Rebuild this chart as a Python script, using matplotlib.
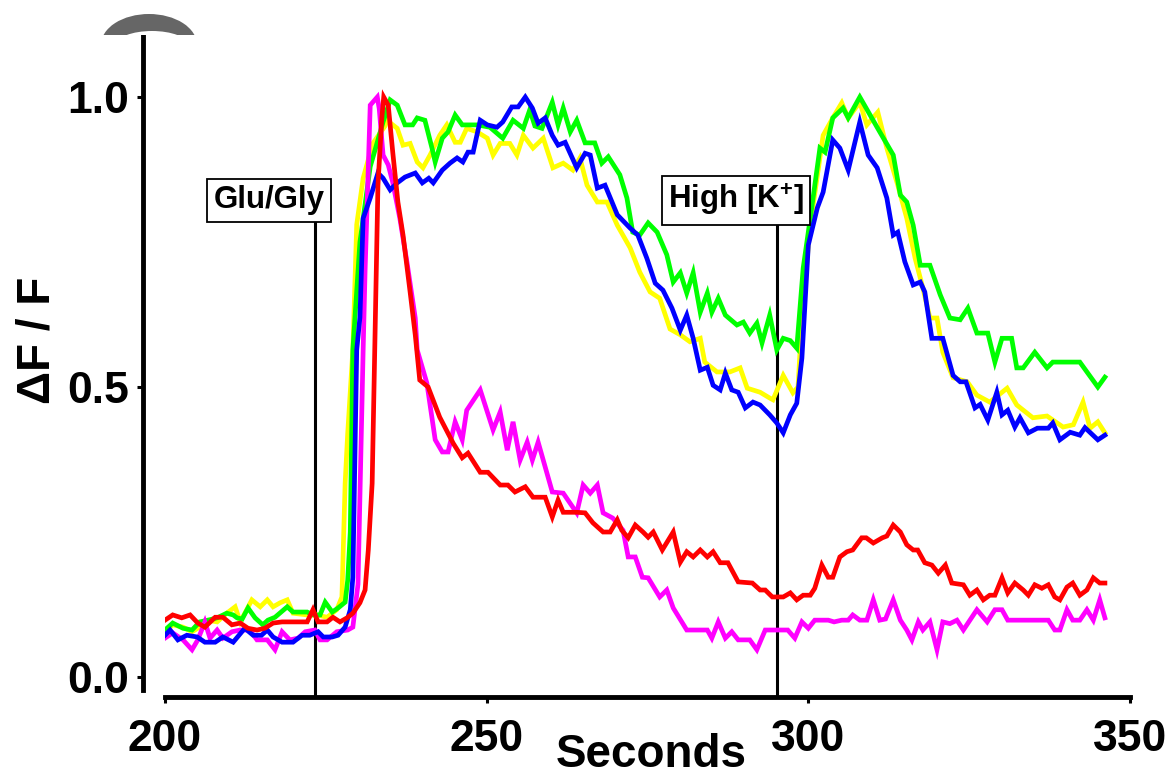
import matplotlib
matplotlib.use('Agg')
import matplotlib.pyplot as plt
from matplotlib.patches import Ellipse

plt.rcParams['font.family'] = ['Liberation Sans', 'DejaVu Sans']
plt.rcParams['mathtext.fontset'] = 'custom'
plt.rcParams['mathtext.rm'] = 'Liberation Sans'
plt.rcParams['mathtext.bf'] = 'Liberation Sans:bold'

# ---------------- data ----------------
red_t = [200.0, 201.2, 202.6, 203.9, 205.1, 206.2, 207.8, 209.0, 210.4, 211.7, 212.9, 214.3, 215.5, 216.8,
         218.2, 219.4, 220.7, 222.1, 223.0, 223.8, 225.2, 226.1, 227.2, 228.3, 229.2, 230.3, 231.1, 231.6,
         232.2, 232.6, 233.1, 233.7, 234.0, 234.7, 235.4, 236.2, 237.0, 238.1, 238.9, 239.6, 240.9, 242.7,
         244.8, 246.2, 247.1, 249.0, 250.2, 252.1, 253.3, 254.4, 256.0, 257.2, 258.0, 259.1, 260.2, 261.1,
         261.9, 264.0, 265.3, 266.5, 268.1, 269.2, 270.3, 271.0, 272.0, 273.1, 274.3, 275.1, 275.9, 277.3,
         279.0, 280.1, 281.1, 282.1, 283.2, 284.3, 285.2, 286.3, 287.5, 289.1, 291.3, 292.5, 293.3, 294.4,
         296.1, 297.2, 298.2, 299.2, 300.3, 301.0, 302.1, 303.1, 303.8, 304.9, 306.0, 306.9, 308.3, 309.0,
         310.1, 311.5, 312.2, 313.2, 314.3, 315.3, 316.3, 317.0, 318.1, 319.2, 320.2, 321.3, 322.3, 324.1,
         325.1, 326.2, 327.2, 328.2, 329.0, 330.1, 331.0, 332.1, 333.4, 334.2, 335.2, 336.3, 337.3, 338.3,
         339.1, 340.2, 341.1, 342.2, 343.3, 344.3, 345.3, 346.1]
red_v = [0.098, 0.107, 0.102, 0.107, 0.093, 0.086, 0.103, 0.103, 0.090, 0.093, 0.084, 0.081, 0.084, 0.093,
         0.095, 0.095, 0.095, 0.095, 0.116, 0.095, 0.095, 0.103, 0.095, 0.102, 0.110, 0.128, 0.150, 0.219,
         0.334, 0.564, 0.848, 0.964, 1.000, 0.986, 0.905, 0.819, 0.762, 0.664, 0.590, 0.512, 0.500, 0.448,
         0.403, 0.378, 0.386, 0.353, 0.353, 0.331, 0.331, 0.319, 0.328, 0.310, 0.310, 0.310, 0.276, 0.305,
         0.284, 0.284, 0.283, 0.266, 0.250, 0.250, 0.271, 0.253, 0.240, 0.262, 0.250, 0.241, 0.250, 0.219,
         0.250, 0.198, 0.216, 0.207, 0.219, 0.207, 0.216, 0.197, 0.197, 0.164, 0.162, 0.150, 0.150, 0.138,
         0.138, 0.145, 0.133, 0.141, 0.141, 0.153, 0.193, 0.172, 0.172, 0.207, 0.216, 0.219, 0.240, 0.240,
         0.231, 0.240, 0.243, 0.262, 0.250, 0.228, 0.219, 0.219, 0.197, 0.193, 0.179, 0.193, 0.162, 0.159,
         0.141, 0.150, 0.133, 0.141, 0.141, 0.171, 0.145, 0.162, 0.150, 0.141, 0.159, 0.153, 0.159, 0.138,
         0.133, 0.155, 0.162, 0.141, 0.150, 0.171, 0.162, 0.162]

magenta_t = [200.0, 201.2, 202.8, 204.2, 205.1, 206.2, 207.0, 208.1, 209.0, 210.4, 211.7, 213.2, 214.3, 215.9,
             217.1, 218.2, 219.4, 220.7, 221.8, 223.3, 224.1, 225.2, 226.7, 228.4, 229.2, 230.0, 230.8, 231.1,
             231.9, 233.0, 233.3, 233.9, 234.7, 235.4, 236.5, 237.6, 238.9, 239.2, 240.7, 242.0, 243.1, 244.0,
             245.1, 246.2, 246.9, 249.0, 251.0, 252.1, 253.2, 254.1, 255.2, 256.3, 257.1, 258.0, 260.2, 261.9,
             264.0, 265.0, 266.1, 267.2, 268.1, 269.6, 271.2, 272.0, 273.1, 274.2, 275.1, 276.9, 278.0, 279.0,
             281.1, 283.2, 284.3, 285.0, 286.0, 287.1, 288.1, 289.1, 290.9, 292.0, 293.3, 294.5, 296.8, 297.9,
             299.0, 300.0, 301.0, 303.1, 304.0, 305.2, 306.2, 306.9, 308.0, 309.1, 310.1, 311.1, 312.0, 313.2,
             314.3, 315.3, 316.1, 317.1, 317.8, 318.9, 320.0, 320.9, 322.0, 323.1, 324.1, 326.2, 327.8, 329.0,
             330.1, 331.0, 332.4, 337.3, 338.3, 339.1, 340.2, 341.1, 342.2, 343.3, 344.3, 345.3, 346.1]
magenta_v = [0.067, 0.076, 0.064, 0.047, 0.064, 0.095, 0.067, 0.081, 0.067, 0.078, 0.081, 0.081, 0.064, 0.064,
             0.047, 0.078, 0.064, 0.067, 0.078, 0.081, 0.064, 0.064, 0.078, 0.081, 0.086, 0.160, 0.564, 0.700,
             0.986, 1.000, 0.980, 0.900, 0.883, 0.853, 0.791, 0.716, 0.619, 0.564, 0.507, 0.409, 0.388, 0.388,
             0.440, 0.409, 0.460, 0.495, 0.426, 0.457, 0.391, 0.440, 0.374, 0.405, 0.374, 0.405, 0.319, 0.317,
             0.283, 0.331, 0.317, 0.331, 0.283, 0.274, 0.253, 0.207, 0.207, 0.172, 0.171, 0.138, 0.150, 0.119,
             0.081, 0.081, 0.081, 0.067, 0.095, 0.067, 0.078, 0.064, 0.064, 0.047, 0.081, 0.081, 0.081, 0.067,
             0.095, 0.084, 0.098, 0.098, 0.095, 0.098, 0.098, 0.107, 0.098, 0.098, 0.133, 0.098, 0.100, 0.133,
             0.098, 0.081, 0.064, 0.095, 0.081, 0.095, 0.047, 0.095, 0.092, 0.098, 0.081, 0.116, 0.095, 0.116,
             0.116, 0.098, 0.098, 0.098, 0.081, 0.081, 0.116, 0.098, 0.098, 0.116, 0.098, 0.133, 0.102]

yellow_t = [200.0, 201.2, 202.8, 204.2, 205.4, 206.7, 208.1, 209.6, 210.9, 211.7, 212.7, 213.5, 214.8, 215.9,
            216.8, 217.9, 219.0, 219.9, 222.1, 223.6, 225.2, 226.7, 227.5, 228.0, 228.4, 229.2, 229.8, 230.8,
            232.3, 234.2, 234.5, 236.1, 237.0, 238.1, 239.2, 240.1, 241.2, 242.7, 243.8, 245.1, 245.9, 246.9,
            248.5, 250.1, 251.0, 252.1, 253.6, 254.7, 255.7, 257.2, 258.8, 260.3, 261.9, 263.4, 264.5, 265.6,
            267.2, 268.7, 270.3, 272.3, 273.8, 275.4, 276.9, 278.5, 280.1, 281.6, 283.2, 283.9, 285.8, 287.8,
            289.4, 290.5, 292.5, 294.0, 294.5, 296.1, 297.6, 298.4, 299.0, 300.3, 302.3, 303.8, 305.2, 306.2,
            308.0, 309.1, 310.8, 312.2, 313.9, 315.3, 316.6, 317.8, 318.9, 320.0, 320.9, 322.5, 324.7, 326.2,
            328.2, 330.9, 332.4, 334.9, 337.1, 339.6, 341.2, 342.7, 343.8, 345.0, 346.1]
yellow_v = [0.078, 0.090, 0.086, 0.078, 0.086, 0.098, 0.095, 0.110, 0.121, 0.095, 0.116, 0.133, 0.121, 0.133,
            0.121, 0.128, 0.133, 0.110, 0.107, 0.107, 0.103, 0.116, 0.138, 0.334, 0.420, 0.564, 0.780, 0.860,
            0.920, 0.950, 0.960, 0.946, 0.917, 0.920, 0.888, 0.878, 0.900, 0.934, 0.952, 0.922, 0.922, 0.946,
            0.940, 0.929, 0.900, 0.920, 0.920, 0.900, 0.934, 0.912, 0.929, 0.878, 0.886, 0.874, 0.895, 0.848,
            0.819, 0.819, 0.779, 0.740, 0.698, 0.664, 0.653, 0.600, 0.590, 0.578, 0.584, 0.543, 0.526, 0.526,
            0.533, 0.498, 0.491, 0.481, 0.478, 0.520, 0.490, 0.500, 0.620, 0.779, 0.934, 0.964, 0.990, 0.964,
            0.991, 0.952, 0.974, 0.912, 0.848, 0.791, 0.722, 0.671, 0.619, 0.619, 0.560, 0.516, 0.509, 0.486,
            0.474, 0.498, 0.469, 0.447, 0.450, 0.431, 0.435, 0.474, 0.429, 0.440, 0.421]

green_t = [200.0, 201.2, 202.8, 204.2, 205.4, 206.7, 208.1, 209.6, 210.6, 211.2, 212.0, 212.9, 214.0, 215.2,
           216.0, 217.1, 219.0, 219.9, 222.1, 223.0, 224.1, 224.9, 226.0, 226.9, 228.0, 228.4, 228.8, 229.2,
           230.3, 231.9, 233.9, 235.0, 236.1, 237.3, 238.5, 239.2, 240.4, 241.5, 242.0, 243.1, 244.0, 245.1,
           246.2, 248.5, 250.5, 252.5, 254.1, 255.7, 256.7, 257.5, 258.6, 260.2, 261.1, 261.9, 263.0, 264.0,
           265.3, 266.8, 267.9, 268.9, 270.7, 271.8, 272.7, 273.8, 275.1, 276.5, 278.0, 279.0, 280.1, 281.1,
           282.1, 283.2, 284.3, 285.0, 286.0, 287.1, 288.9, 289.9, 290.9, 292.0, 292.8, 294.0, 295.1, 296.1,
           297.2, 298.2, 299.2, 300.3, 301.8, 302.6, 303.8, 305.4, 306.2, 308.0, 309.6, 311.1, 313.2, 314.3,
           315.3, 316.3, 317.4, 318.9, 320.5, 322.0, 323.6, 324.8, 326.2, 327.9, 329.0, 330.1, 331.6, 332.4,
           333.4, 335.2, 337.1, 338.0, 342.2, 345.0, 346.1]
green_v = [0.081, 0.093, 0.084, 0.081, 0.095, 0.098, 0.102, 0.110, 0.107, 0.102, 0.100, 0.119, 0.102, 0.090,
           0.098, 0.103, 0.121, 0.112, 0.112, 0.107, 0.107, 0.129, 0.112, 0.119, 0.129, 0.167, 0.250, 0.564,
           0.750, 0.880, 0.957, 0.995, 0.986, 0.952, 0.952, 0.964, 0.960, 0.912, 0.888, 0.929, 0.940, 0.969,
           0.952, 0.952, 0.948, 0.929, 0.960, 0.946, 0.978, 0.950, 0.946, 0.991, 0.952, 0.981, 0.940, 0.960,
           0.921, 0.921, 0.886, 0.897, 0.866, 0.826, 0.767, 0.762, 0.783, 0.767, 0.728, 0.681, 0.697, 0.662,
           0.697, 0.629, 0.662, 0.629, 0.653, 0.624, 0.607, 0.612, 0.593, 0.610, 0.576, 0.624, 0.564, 0.584,
           0.580, 0.567, 0.705, 0.791, 0.912, 0.905, 0.964, 0.981, 0.964, 1.000, 0.969, 0.940, 0.900, 0.831,
           0.819, 0.779, 0.710, 0.710, 0.659, 0.619, 0.616, 0.636, 0.593, 0.593, 0.543, 0.584, 0.584, 0.533,
           0.533, 0.560, 0.533, 0.543, 0.543, 0.500, 0.517]

blue_t = [200.0, 200.8, 202.0, 203.4, 205.0, 206.2, 207.8, 209.0, 210.6, 212.4, 213.7, 215.0, 215.9, 216.8,
          218.2, 219.9, 221.3, 222.5, 223.8, 224.6, 226.0, 226.9, 228.0, 228.8, 229.2, 229.8, 230.3, 230.8,
          231.9, 233.1, 233.9, 235.0, 236.1, 237.3, 238.9, 240.0, 241.0, 241.7, 243.1, 244.3, 245.4, 246.3,
          247.1, 247.9, 249.0, 250.1, 251.6, 252.5, 253.9, 254.9, 256.0, 257.1, 258.0, 259.1, 260.2, 261.1,
          262.2, 264.0, 265.3, 266.1, 267.2, 268.4, 270.3, 272.3, 273.5, 274.9, 276.2, 277.4, 278.8, 280.1,
          281.1, 282.1, 283.2, 284.3, 285.2, 286.3, 287.1, 288.1, 289.1, 290.2, 291.4, 292.5, 294.0, 295.1,
          296.1, 297.2, 298.2, 299.0, 300.0, 301.4, 302.3, 303.8, 304.9, 306.2, 308.0, 309.3, 310.7, 312.2,
          313.2, 313.9, 315.0, 316.3, 317.4, 318.1, 319.2, 320.9, 322.5, 323.6, 324.5, 325.9, 326.7, 327.9,
          329.3, 330.1, 331.0, 332.1, 332.9, 334.2, 335.6, 337.3, 338.0, 339.1, 340.7, 342.2, 343.0, 345.0,
          346.1]
blue_v = [0.072, 0.081, 0.064, 0.072, 0.069, 0.060, 0.060, 0.069, 0.060, 0.084, 0.072, 0.072, 0.081, 0.069,
          0.060, 0.060, 0.072, 0.072, 0.078, 0.069, 0.069, 0.072, 0.086, 0.116, 0.172, 0.564, 0.620, 0.791,
          0.826, 0.869, 0.860, 0.840, 0.852, 0.862, 0.869, 0.852, 0.860, 0.852, 0.874, 0.886, 0.895, 0.888,
          0.905, 0.905, 0.960, 0.952, 0.948, 0.957, 0.983, 0.983, 1.000, 0.981, 0.955, 0.964, 0.934, 0.917,
          0.922, 0.878, 0.903, 0.900, 0.843, 0.848, 0.797, 0.774, 0.762, 0.722, 0.679, 0.667, 0.636, 0.598,
          0.624, 0.584, 0.529, 0.534, 0.503, 0.495, 0.524, 0.495, 0.491, 0.464, 0.474, 0.469, 0.452, 0.438,
          0.421, 0.452, 0.472, 0.550, 0.745, 0.809, 0.836, 0.926, 0.912, 0.874, 0.957, 0.900, 0.878, 0.826,
          0.762, 0.767, 0.716, 0.676, 0.681, 0.664, 0.584, 0.584, 0.520, 0.509, 0.509, 0.464, 0.470, 0.443,
          0.491, 0.452, 0.460, 0.431, 0.447, 0.421, 0.429, 0.429, 0.438, 0.409, 0.422, 0.417, 0.430, 0.409,
          0.417]

series = [
    (yellow_t, yellow_v, '#FFFF00'),
    (green_t, green_v, '#00FF00'),
    (magenta_t, magenta_v, '#FF00FF'),
    (blue_t, blue_v, '#0000FF'),
    (red_t, red_v, '#FF0000'),
]

x_ticks = [200, 250, 300, 350]
y_ticks = [0.0, 0.5, 1.0]
y_ticklabels = ['0.0', '0.5', '1.0']

events = [(223.3, 'Glu/Gly', 216.2), (295.1, r'High [K$^{\mathbf{+}}$]', 288.8)]

# ---------------- figure ----------------
W, H = 1171, 778
fig = plt.figure(figsize=(W / 100, H / 100), dpi=100)
ax = fig.add_axes([165 / W, 81 / H, 965 / W, 662 / H])

for t, v, c in series:
    ax.plot(t, v, color=c, lw=3.4, solid_joinstyle='miter', zorder=3)

ax.set_xlim(200, 350)
ax.set_ylim(-0.0345, 1.107)

for xe, label, xl in events:
    ax.plot([xe, xe], [-0.0345, 0.785], color='black', lw=2.2, zorder=2)
    ax.text(xl, 0.822, label, ha='center', va='center', fontsize=22.5, fontweight='bold',
            zorder=5,
            bbox=dict(boxstyle='square,pad=0.2', facecolor='white', edgecolor='black', linewidth=1.3))

for s in ['top', 'right']:
    ax.spines[s].set_visible(False)
ax.spines['left'].set_position(('outward', 16))
ax.spines['left'].set_bounds(-0.022, 1.107)
ax.spines['left'].set_linewidth(3.5)
ax.spines['bottom'].set_linewidth(3.5)
ax.spines['bottom'].set_bounds(200, 350)

ax.set_xticks(x_ticks)
ax.set_xticklabels([str(x) for x in x_ticks])
ax.set_yticks(y_ticks)
ax.set_yticklabels(y_ticklabels)
ax.tick_params(axis='both', direction='out', length=4.5, width=2.2, labelsize=32)
ax.tick_params(axis='x', pad=11)
ax.tick_params(axis='y', pad=5)
for lab in ax.get_xticklabels() + ax.get_yticklabels():
    lab.set_fontweight('bold')

fig.text(38 / W, 1 - 340 / H, u'\u0394F / F', rotation=90, ha='center', va='center',
         fontsize=33, fontweight='bold')
fig.text(651 / W, 1 - 755 / H, 'Seconds', ha='center', va='center', fontsize=33, fontweight='bold')

# decorative grey arc cut off at the top edge (as in the reference screenshot)
deco = fig.add_axes([0, 1 - 35 / H, 1, 35 / H])
deco.set_xlim(0, W)
deco.set_ylim(35, 0)
deco.axis('off')
deco.add_patch(Ellipse((149, 45), 96, 62, facecolor='#666666', edgecolor='none'))
deco.add_patch(Ellipse((152, 45), 72, 28, facecolor='white', edgecolor='none'))

fig.savefig('out.png', dpi=100)
